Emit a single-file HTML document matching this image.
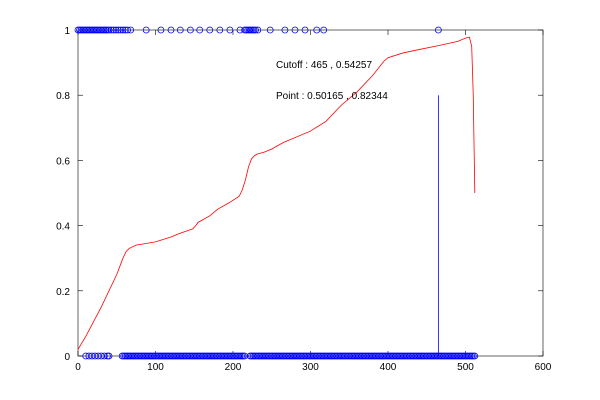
<!DOCTYPE html>
<html><head><meta charset="utf-8"><style>body{margin:0;background:#fff}svg{display:block}</style></head>
<body>
<svg id="c" width="600" height="400" xmlns="http://www.w3.org/2000/svg" font-family="Liberation Sans, sans-serif" font-size="10"></svg>
<script>
const xTicks=[0,100,200,300,400,500,600];
const yTicks=[0,0.2,0.4,0.6,0.8,1];
const yTickLabels=["0","0.2","0.4","0.6","0.8","1"];
const curveX=[0,10,30,50,58,62,66,75,100,120,130,148,152,155,170,180,195,208,212,216,220,224,228,232,240,250,265,300,320,340,360,380,390,395,400,420,440,465,490,500,505,508,510,512];
const curveY=[0.02,0.06,0.15,0.25,0.3,0.32,0.33,0.34,0.35,0.365,0.375,0.39,0.40,0.41,0.43,0.45,0.47,0.49,0.51,0.54,0.58,0.605,0.615,0.62,0.625,0.635,0.655,0.69,0.72,0.77,0.81,0.86,0.89,0.905,0.915,0.93,0.94,0.952,0.965,0.975,0.978,0.95,0.8,0.5];
const topPoints=[0,2,4,6,8,10,12,14,16,18,20,22,24,26,28,30,32,34,36,38,40,43,46,49,52,55,58,61,64,68,88,107,120,132,145,157,170,183,196,209,215,217,219,221,223,225,227,229,232,248,267,280,293,308,317,465];
const bottomPoints=[10,14,18,22,26,30,34,38,40];
for(let v=57;v<=215;v+=2)bottomPoints.push(v);
for(let v=222;v<=513;v+=2)bottomPoints.push(v);
const cutoffX=465, cutoffY=0.8;
const X0=78,X1=543,Y0=356,Y1=30;
const sx=v=>X0+(v-0)/(600-0)*(X1-X0);
const sy=v=>Y0-(v-0)/(1-0)*(Y0-Y1);
const svg=document.getElementById('c');
const NS='http://www.w3.org/2000/svg';
function mk(t,a,p){const e=document.createElementNS(NS,t);for(const k in a)e.setAttribute(k,a[k]);(p||svg).appendChild(e);return e;}
let frame=mk('rect',{x:X0,y:Y1,width:X1-X0,height:Y0-Y1,fill:'none',stroke:'#000','stroke-width':0.6});


xTicks.forEach(t=>{
  const x=sx(t);
  let l=mk('line',{x1:x,x2:x,y1:Y0,y2:Y0-5,stroke:'#000','stroke-width':0.6});
  
  
  let l2=mk('line',{x1:x,x2:x,y1:Y1,y2:Y1+5,stroke:'#000','stroke-width':0.6});
  
  
  let tx=mk('text',{x:x,y:Y0+14,'text-anchor':'middle'});tx.textContent=t;
  
  
});
yTicks.forEach((t,i)=>{
  const y=sy(t);
  let l=mk('line',{x1:X0,x2:X0+5,y1:y,y2:y,stroke:'#000','stroke-width':0.6});
  
  
  let l2=mk('line',{x1:X1,x2:X1-5,y1:y,y2:y,stroke:'#000','stroke-width':0.6});
  
  
  let tx=mk('text',{x:X0-8,y:y+4,'text-anchor':'end'});tx.textContent=yTickLabels[i];
  
  
});
function circ(v,yv,name){
  let c=mk('circle',{cx:sx(v),cy:sy(yv),r:3,fill:'none',stroke:'#00f','stroke-width':0.8});
  
  
}
topPoints.forEach(v=>circ(v,1,'positive-point'));
bottomPoints.forEach(v=>circ(v,0,'negative-point'));
let p=mk('polyline',{points:curveX.map((v,i)=>sx(v)+','+sy(curveY[i])).join(' '),fill:'none',stroke:'#f00','stroke-width':0.8});


let cl=mk('line',{x1:sx(cutoffX),x2:sx(cutoffX),y1:sy(0),y2:sy(cutoffY),stroke:'#00f','stroke-width':0.8});


let a1=mk('text',{x:276,y:68});a1.textContent='Cutoff : 465 , 0.54257';


let a2=mk('text',{x:276,y:99});a2.textContent='Point : 0.50165 , 0.82344';


</script>
</body></html>
